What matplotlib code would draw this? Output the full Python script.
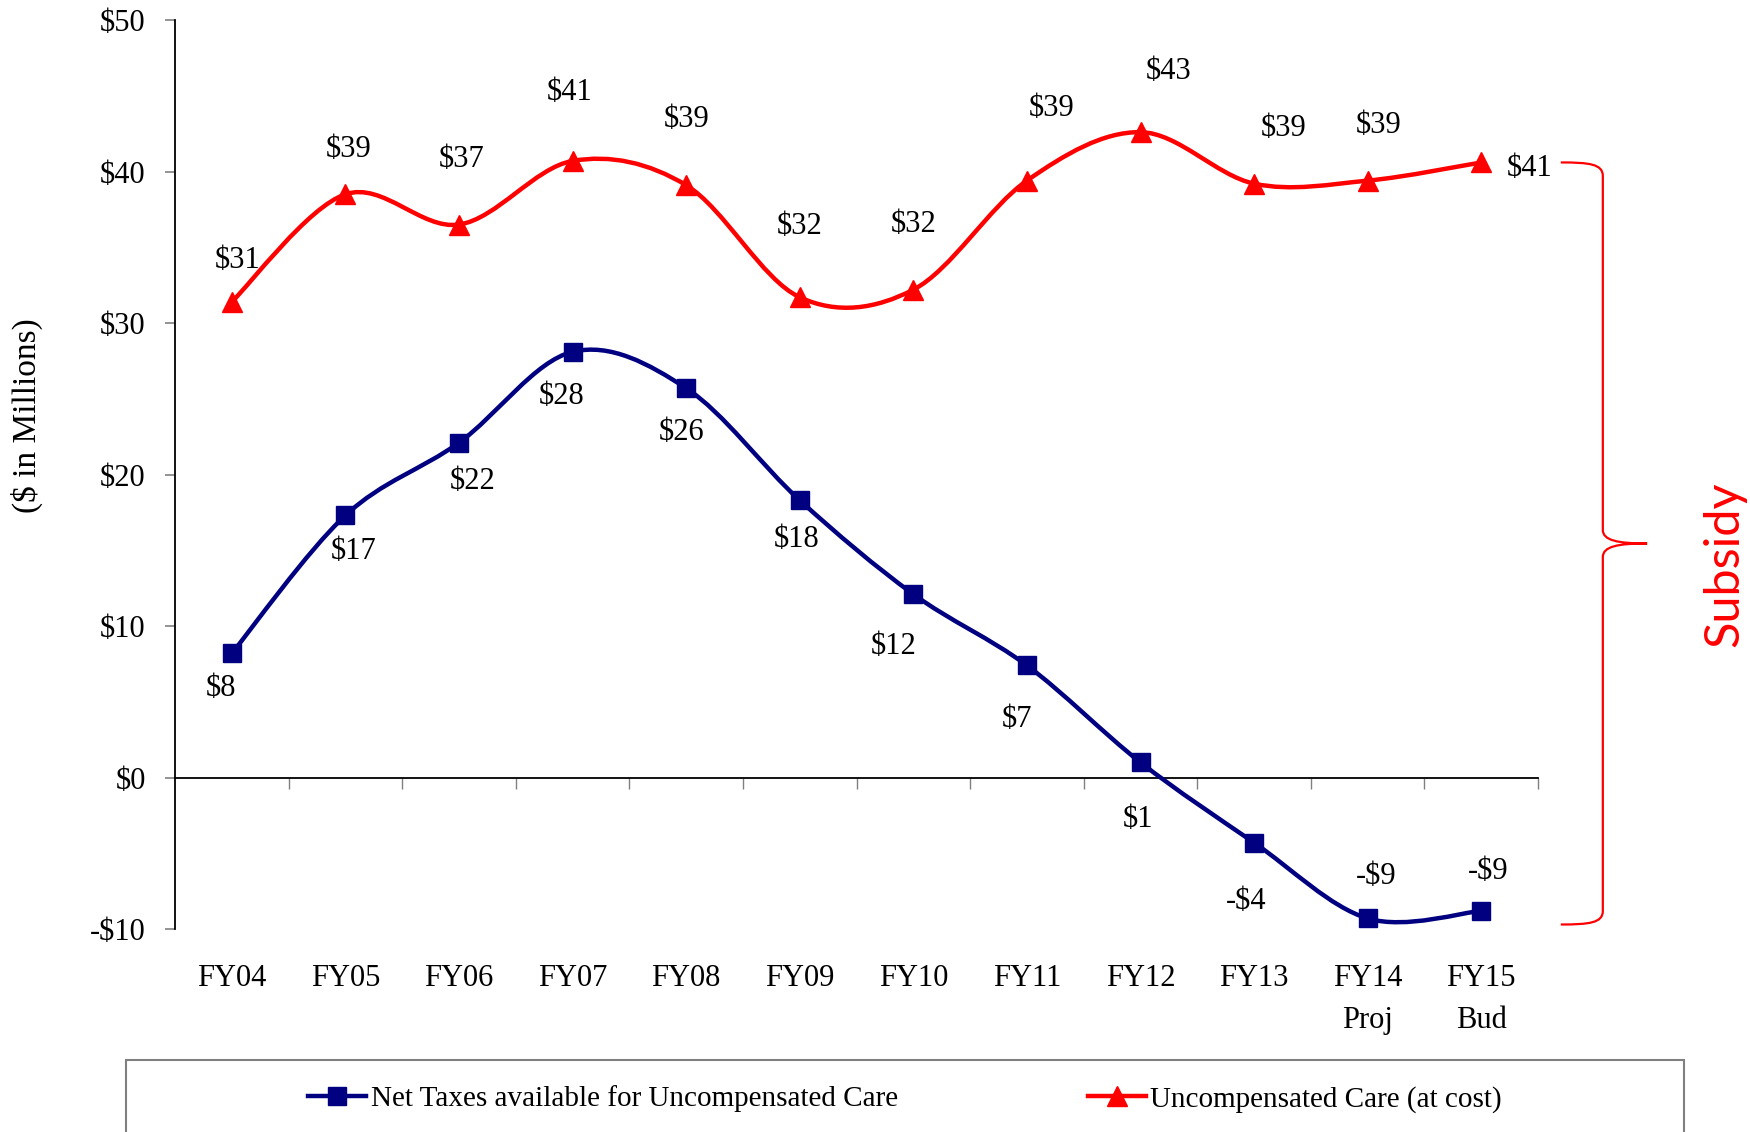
"""Net taxes vs. uncompensated care, FY04-FY15 (smoothed lines, subsidy brace)."""
import matplotlib
matplotlib.use("Agg")
import matplotlib.pyplot as plt
from matplotlib.lines import Line2D
from matplotlib.patches import PathPatch, Rectangle
from matplotlib.path import Path
import numpy as np

# ---- data -------------------------------------------------------------
CATEGORIES = ["FY04", "FY05", "FY06", "FY07", "FY08", "FY09", "FY10",
              "FY11", "FY12", "FY13", "FY14\nProj", "FY15\nBud"]
NET_TAXES = [8.2, 17.3, 22.1, 28.1, 25.7, 18.3, 12.1, 7.4, 1.0, -4.3, -9.3, -8.8]
NET_LABELS = ["$8", "$17", "$22", "$28", "$26", "$18", "$12", "$7", "$1",
              "-$4", "-$9", "-$9"]
UNCOMP_CARE = [31.4, 38.5, 36.5, 40.7, 39.1, 31.7, 32.2, 39.4, 42.6, 39.2, 39.4, 40.6]
UNCOMP_LABELS = ["$31", "$39", "$37", "$41", "$39", "$32", "$32", "$39", "$43",
                 "$39", "$39", "$41"]
Y_TICKS = [-10, 0, 10, 20, 30, 40, 50]

# label offsets (points) - placed by hand in the original
NET_OFFSETS = [(-8, -25), (6, -26), (10, -28), (-8, -32), (-3, -32), (-2, -28),
               (-14, -38), (-7, -39), (-2, -41), (-6, -42), (6, 30), (5, 28)]
UNCOMP_OFFSETS = [(4, 30), (2, 32), (2, 47), (-2, 49), (0, 47), (0, 51),
                  (0, 47), (18, 52), (20, 44), (21, 40), (8, 40), (35, -4)]

NAVY = "#000080"
RED = "#FF0000"
SERIF = "Liberation Serif"

plt.rcParams.update({
    "font.family": SERIF,
    "font.size": 22,
})


def smooth_path(xs, ys):
    """Catmull-Rom style bezier through the points (like Excel's smoothed line)."""
    pts = np.column_stack([xs, ys]).astype(float)
    n = len(pts)
    verts = [pts[0]]
    codes = [Path.MOVETO]
    for i in range(n - 1):
        p0 = pts[i - 1] if i > 0 else pts[i]
        p1 = pts[i]
        p2 = pts[i + 1]
        p3 = pts[i + 2] if i + 2 < n else pts[i + 1]
        c1 = p1 + (p2 - p0) / 6.0
        c2 = p2 - (p3 - p1) / 6.0
        verts += [c1, c2, p2]
        codes += [Path.CURVE4] * 3
    return Path(verts, codes)


def draw_series(ax, ys, labels, offsets, color, marker, ms):
    x = np.arange(len(ys))
    ax.add_patch(PathPatch(smooth_path(x, ys), fill=False, edgecolor=color,
                           lw=3.2, zorder=3, capstyle="round", joinstyle="round"))
    ax.plot(x, ys, linestyle="none", marker=marker, ms=ms, color=color, zorder=4)
    for xi, yi, lab, off in zip(x, ys, labels, offsets):
        ax.annotate(lab, (xi, yi), xytext=off, textcoords="offset points",
                    ha="center", va="center", fontsize=22)


def draw_brace(ax, top, bottom):
    mid = (top + bottom) / 2.0
    tip, stem, point = 11.70, 12.07, 12.46
    r = 0.9
    verts = [
        (tip, top), (11.95, top), (stem, top - 0.1), (stem, top - r),
        (stem, mid + r), (stem, mid + 0.2), (12.2, mid), (point, mid),
        (12.2, mid), (stem, mid - 0.2), (stem, mid - r),
        (stem, bottom + r), (stem, bottom + 0.1), (11.95, bottom), (tip, bottom),
    ]
    codes = ([Path.MOVETO] + [Path.CURVE4] * 3 + [Path.LINETO] + [Path.CURVE4] * 3
             + [Path.CURVE4] * 3 + [Path.LINETO] + [Path.CURVE4] * 3)
    ax.add_patch(PathPatch(Path(verts, codes), fill=False, edgecolor=RED, lw=1.6,
                           clip_on=False, zorder=5))
    ax.text(13.14, mid - 1.4, "Subsidy", rotation=90, ha="center", va="center",
            color=RED, fontsize=35, family="Lato", clip_on=False)


def main() -> None:
    fig = plt.figure(figsize=(17.5, 11.32), dpi=100)
    ax = fig.add_axes([0.1, 0.1793, 0.7789, 0.803])

    n = len(CATEGORIES)
    ax.set_xlim(-0.5, n - 0.5)
    ax.set_ylim(-10, 50)

    draw_series(ax, NET_TAXES, NET_LABELS, NET_OFFSETS, NAVY, "s", 13)
    draw_series(ax, UNCOMP_CARE, UNCOMP_LABELS, UNCOMP_OFFSETS, RED, "^", 14)
    draw_brace(ax, UNCOMP_CARE[-1], min(NET_TAXES) - 0.4)

    # axes styling
    for side in ("top", "right"):
        ax.spines[side].set_visible(False)
    ax.spines["bottom"].set_position(("data", 0))
    ax.spines["bottom"].set_linewidth(1.3)
    ax.spines["left"].set_linewidth(1.3)

    ax.set_yticks(Y_TICKS)
    ax.set_yticklabels([f"-${-v}" if v < 0 else f"${v}" for v in Y_TICKS])
    ax.tick_params(axis="y", length=7, width=1.2, color="#808080", pad=14,
                   labelsize=22)

    ax.set_xticks(np.arange(n))
    ax.set_xticklabels(CATEGORIES)
    ax.set_xticks(np.arange(n) + 0.5, minor=True)
    ax.tick_params(axis="x", which="major", length=0, pad=134, labelsize=22)
    ax.tick_params(axis="x", which="minor", length=8, width=1.0, color="#808080")
    for t in ax.get_xticklabels():
        t.set_linespacing(1.6)

    ax.set_ylabel("($ in Millions)", fontsize=24)
    ax.yaxis.set_label_coords(-0.097, 0.565)

    # legend box, cut off at the bottom of the figure
    fig.patches.append(Rectangle((126 / 1750, -0.05), (1684 - 126) / 1750, 0.1136,
                                 transform=fig.transFigure, fill=False,
                                 edgecolor="#808080", lw=1.5))
    handles = [
        Line2D([], [], color=NAVY, lw=3.2, marker="s", ms=13),
        Line2D([], [], color=RED, lw=3.2, marker="^", ms=14),
    ]
    fig.legend(handles, ["Net Taxes available for Uncompensated Care",
                         "Uncompensated Care (at cost)"],
               loc="center", bbox_to_anchor=(905 / 1750, 1 - 1099 / 1132),
               ncol=2, frameon=False, fontsize=21, handlelength=2.0,
               handletextpad=0.15, columnspacing=6.5)

    fig.savefig("out.png", dpi=100)


if __name__ == "__main__":
    main()
